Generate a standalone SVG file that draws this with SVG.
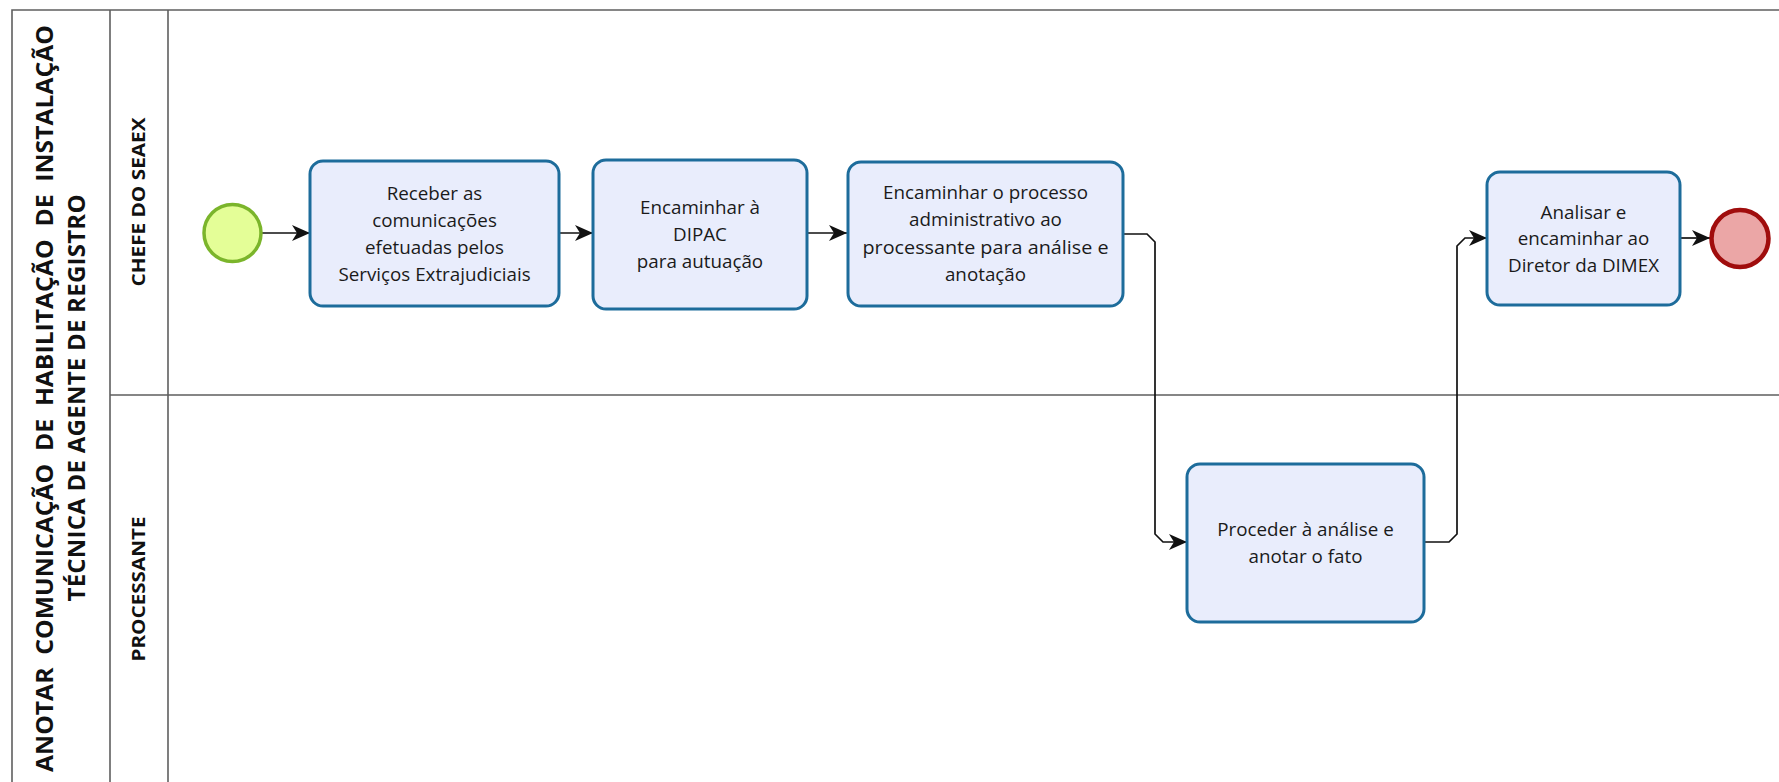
<svg xmlns="http://www.w3.org/2000/svg" width="1779" height="782" viewBox="0 0 1779 782">
<style>
.pool{stroke:#5f5f5f;stroke-width:1.6;fill:none}
.title{font-family:"Open Sans","Noto Sans",sans-serif;font-weight:bold;font-size:24px;fill:#111;white-space:pre}
.lane{font-family:"Open Sans","Noto Sans",sans-serif;font-weight:bold;font-size:18px;fill:#111}
.task rect{fill:#e9edfc;stroke:#1d6c9b;stroke-width:3}
.task text{font-family:"Open Sans","Noto Sans",sans-serif;font-size:18.8px;fill:#1a1a1a;text-anchor:middle}
.conn path{fill:none;stroke:#111;stroke-width:1.7}
</style>
<defs>
<marker id="arr" markerUnits="userSpaceOnUse" markerWidth="20" markerHeight="20" refX="18" refY="9" orient="auto">
<path d="M0,1 L18,9 L0,17 L5,9 z" fill="#111"/>
</marker>
</defs>
<rect width="1779" height="782" fill="#fff"/>
<g id="pool">
<path class="pool" d="M1779,10 H12 V790 M110,10 V790 M168,10 V790 M110,395 H1779"/>
<text class="title" xml:space="preserve" transform="translate(53,772) rotate(-90)" textLength="747" lengthAdjust="spacingAndGlyphs" font-size="26">ANOTAR  COMUNICAÇÃO  DE  HABILITAÇÃO  DE  INSTALAÇÃO</text>
<text class="title" transform="translate(85,398) rotate(-90)" text-anchor="middle" textLength="407" lengthAdjust="spacing">TÉCNICA DE AGENTE DE REGISTRO</text>
</g>
<g id="lane-chefe"><text class="lane" transform="translate(145,202) rotate(-90)" text-anchor="middle" textLength="169" lengthAdjust="spacingAndGlyphs">CHEFE DO SEAEX</text></g>
<g id="lane-processante"><text class="lane" transform="translate(145,589) rotate(-90)" text-anchor="middle" textLength="145" lengthAdjust="spacingAndGlyphs">PROCESSANTE</text></g>
<g class="conn" id="connectors">
<path d="M262,233 H310" marker-end="url(#arr)"/>
<path d="M559,233 H593" marker-end="url(#arr)"/>
<path d="M807,233 H847" marker-end="url(#arr)"/>
<path d="M1123,234 H1147 L1155,242 V534 L1163,542 H1187" marker-end="url(#arr)"/>
<path d="M1424,542 H1449 L1457,534 V246 L1465,238 H1487" marker-end="url(#arr)"/>
<path d="M1680,238 H1710" marker-end="url(#arr)"/>
</g>
<g id="start"><circle cx="232.5" cy="233" r="28.5" fill="#e4fe97" stroke="#7bb52b" stroke-width="3.5"/></g>
<g id="end"><circle cx="1740" cy="238.5" r="28.5" fill="#eba6a6" stroke="#a00d0d" stroke-width="4.5"/></g>
<g id="task1" class="task"><rect x="310" y="161" width="249" height="145" rx="13"/>
<text x="434.5" y="199.5">Receber as</text><text x="434.5" y="226.5">comunicações</text><text x="434.5" y="253.5">efetuadas pelos</text><text x="434.5" y="280.5">Serviços Extrajudiciais</text></g>
<g id="task2" class="task"><rect x="593" y="160" width="214" height="149" rx="13"/>
<text x="700" y="213.5">Encaminhar à</text><text x="700" y="240.5">DIPAC</text><text x="700" y="267.5">para autuação</text></g>
<g id="task3" class="task"><rect x="848" y="162" width="275" height="144" rx="13"/>
<text x="985.5" y="198.5">Encaminhar o processo</text><text x="985.5" y="226">administrativo ao</text><text x="985.5" y="253.5" textLength="246" lengthAdjust="spacingAndGlyphs">processante para análise e</text><text x="985.5" y="281">anotação</text></g>
<g id="task4" class="task"><rect x="1187" y="464" width="237" height="158" rx="13"/>
<text x="1305.5" y="535.5">Proceder à análise e</text><text x="1305.5" y="562.5">anotar o fato</text></g>
<g id="task5" class="task"><rect x="1487" y="172" width="193" height="133" rx="13"/>
<text x="1583.5" y="218.5">Analisar e</text><text x="1583.5" y="245">encaminhar ao</text><text x="1583.5" y="271.5">Diretor da DIMEX</text></g>
</svg>
